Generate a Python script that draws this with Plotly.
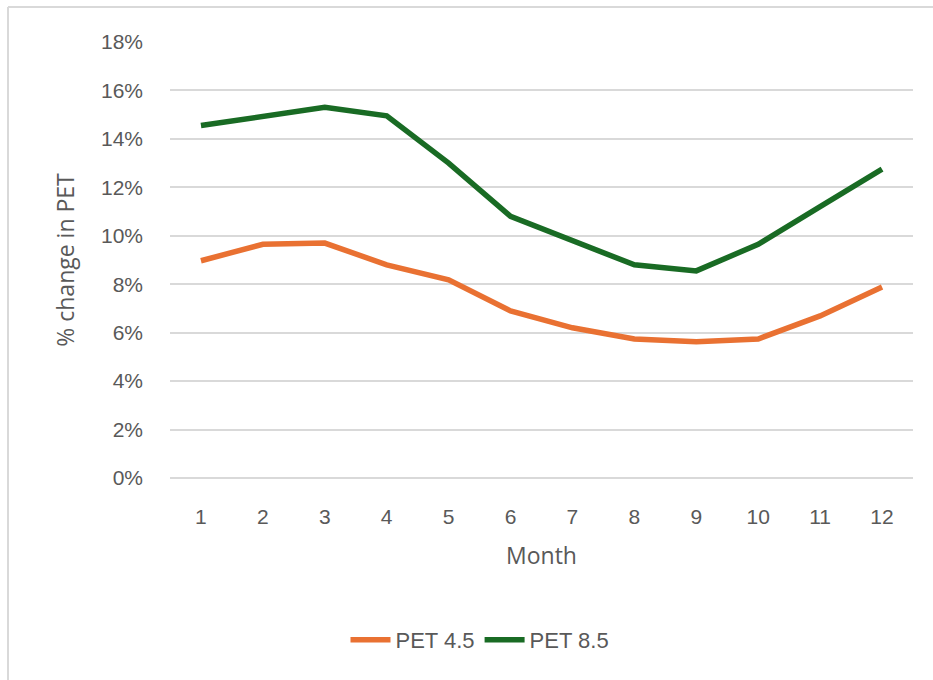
import plotly.graph_objects as go

months = [1, 2, 3, 4, 5, 6, 7, 8, 9, 10, 11, 12]
pet_45 = [0.0897, 0.0965, 0.0970, 0.0880, 0.0818, 0.0690, 0.0620, 0.0574, 0.0562, 0.0574, 0.0669, 0.0789]
pet_85 = [0.1455, 0.1490, 0.1530, 0.1495, 0.1300, 0.1080, 0.0980, 0.0880, 0.0855, 0.0965, 0.1120, 0.1275]
series_names = ["PET 4.5", "PET 8.5"]
series_colors = ["#E97132", "#196B24"]

W, H = 933, 680
L, R, T, B = 170, 20, 42, 202
pw, ph = W - L - R, H - T - B

def px(x):
    return (x - L) / pw

def py(y):
    return (H - B - y) / ph

tick_font = dict(family="Liberation Sans, Arial, sans-serif", size=21, color="#595959")
title_font = dict(family="Open Sans, Liberation Sans, sans-serif", size=23, color="#595959")

fig = go.Figure()
for name, vals, col in zip(series_names, [pet_45, pet_85], series_colors):
    fig.add_trace(go.Scatter(
        x=months, y=vals, name=name, mode="lines",
        line=dict(color=col, width=5.5),
    ))

fig.update_layout(
    width=W, height=H,
    margin=dict(l=L, r=R, t=T, b=B, autoexpand=False),
    paper_bgcolor="white", plot_bgcolor="white",
    showlegend=True,
    legend=dict(
        orientation="h", x=px(480), xanchor="center", y=py(640), yanchor="middle",
        font=dict(family="Liberation Sans, Arial, sans-serif", size=22, color="#595959"),
        itemwidth=40, traceorder="normal",
    ),
    xaxis=dict(
        range=[0.5, 12.5], tickmode="array", tickvals=months, ticktext=[str(m) for m in months],
        showgrid=False, zeroline=False, showline=False, ticks="",
        tickfont=tick_font, ticklabelstandoff=24,
        title=dict(text="Month", font=title_font, standoff=20),
    ),
    yaxis=dict(
        range=[0, 0.18], dtick=0.02, tickformat=".0%",
        showgrid=True, gridcolor="#D9D9D9", gridwidth=1.5,
        zeroline=True, zerolinecolor="#D9D9D9", zerolinewidth=1.5,
        showline=False, ticks="",
        tickfont=tick_font, ticklabelstandoff=26,
        title=dict(text="% change in PET", font=title_font, standoff=19),
    ),
    shapes=[
        dict(type="line", xref="paper", yref="paper", x0=px(8), x1=px(940), y0=py(7), y1=py(7),
             line=dict(color="#D9D9D9", width=2)),
        dict(type="line", xref="paper", yref="paper", x0=px(8), x1=px(8), y0=py(7), y1=py(690),
             line=dict(color="#D9D9D9", width=2)),
    ],
)

fig.write_html("out.html")
